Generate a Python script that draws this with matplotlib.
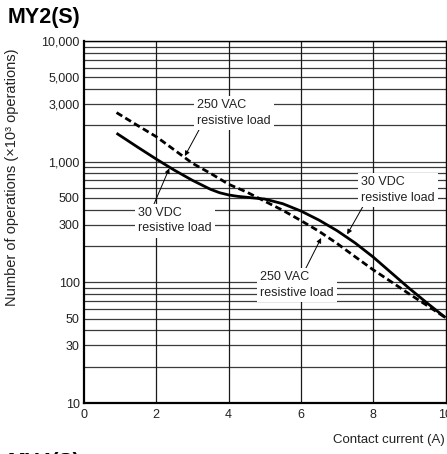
import numpy as np
import matplotlib
matplotlib.use('Agg')
import matplotlib.pyplot as plt
from matplotlib.ticker import FixedLocator, NullFormatter

plt.rcParams['font.family'] = ['Liberation Sans', 'DejaVu Sans']

# Contact current (A) vs number of operations (x10^3)
current_vdc = [0.9, 1.5, 2.0, 2.5, 3.0, 3.5, 3.75, 4.0, 4.25, 4.5, 5.0, 5.5, 6.0, 6.5, 7.0, 7.5, 8.0, 8.5, 9.0, 9.5, 10.0]
ops_vdc = [1720, 1310, 1050, 850, 700, 590, 553, 530, 516, 507, 490, 448, 390, 328, 268, 212, 162, 120, 89, 67, 51]

current_vac = [0.9, 1.5, 2.0, 2.5, 3.0, 3.5, 4.0, 4.5, 5.0, 5.5, 6.0, 6.5, 7.0, 7.5, 8.0, 8.5, 9.0, 9.5, 10.0]
ops_vac = [2550, 1980, 1610, 1250, 970, 800, 650, 560, 470, 395, 325, 265, 210, 163, 127, 101, 80, 64, 51]

x_ticks = [0, 2, 4, 6, 8, 10]
y_ticks = [10, 30, 50, 100, 300, 500, 1000, 3000, 5000, 10000]
y_labels = ['10', '30', '50', '100', '300', '500', '1,000', '3,000', '5,000', '10,000']

W, H = 447, 454
fig = plt.figure(figsize=(W / 100, H / 100), dpi=100)
ax = fig.add_axes([84 / W, 1 - 403 / H, 361.5 / W, 362 / H])

ax.set_yscale('log')
ax.set_xlim(0, 10)
ax.set_ylim(10, 10000)

# grid: every 1..9 x decade horizontally, every 2 A vertically
minor_y = [k * 10 ** n for n in range(1, 4) for k in range(1, 10)] + [10000]
for v in minor_y:
    ax.axhline(v, color='#3a3a3a', lw=0.9, zorder=1)
for v in x_ticks[1:-1]:
    ax.axvline(v, color='#1a1a1a', lw=0.9, zorder=1)

ax.plot(current_vdc, ops_vdc, color='black', lw=2.0, zorder=3,
        solid_capstyle='butt', solid_joinstyle='round')
ax.plot(current_vac, ops_vac, color='black', lw=2.0, zorder=3, dashes=(2.4, 1.3))

ax.yaxis.set_major_locator(FixedLocator(y_ticks))
ax.yaxis.set_minor_locator(FixedLocator([]))
ax.yaxis.set_minor_formatter(NullFormatter())
ax.set_yticklabels(y_labels)
ax.set_xticks(x_ticks)
ax.tick_params(axis='both', length=0, labelsize=9, colors='#222222')
ax.tick_params(axis='y', pad=3)
ax.tick_params(axis='x', pad=4)

for side in ['left', 'bottom']:
    ax.spines[side].set_linewidth(1.6)
for side in ['top', 'right']:
    ax.spines[side].set_linewidth(1.0)

box = dict(boxstyle='square,pad=0.25', fc='white', ec='none')
arrow = dict(arrowstyle='-|>', color='black', lw=0.7, mutation_scale=7,
             shrinkA=0, shrinkB=0)

def note(txt, xy, xytext, relpos):
    a = dict(arrow)
    a['relpos'] = relpos
    ax.annotate(txt, xy=xy, xytext=xytext, fontsize=9, ha='left', va='center',
                linespacing=1.35, bbox=box, arrowprops=a, zorder=5,
                color='#222222')

note('250 VAC\nresistive load', (2.79, 1114), (3.13, 2530), (0.05, 0.0))
note('30 VDC\nresistive load', (2.36, 880), (1.49, 323), (0.2, 1.0))
note('30 VDC\nresistive load', (7.28, 250), (7.66, 583), (0.05, 0.0))
note('250 VAC\nresistive load', (6.56, 233), (4.87, 95), (0.6, 1.0))

fig.text(8 / W, 1 - 23 / H, 'MY2(S)', fontsize=15.5, fontweight='bold', va='baseline')
fig.text(8 / W, 1 - 452 / H, 'MY4(S)', fontsize=15.5, fontweight='bold', va='top')
fig.text(12 / W, 1 - 177 / H, 'Number of operations (×10³ operations)', rotation=90,
         ha='center', va='center', fontsize=10.5, color='#222222')
fig.text(445 / W, 1 - 440 / H, 'Contact current (A)', ha='right', va='center',
         fontsize=9.5, color='#222222')

fig.savefig('out.png', dpi=100)
